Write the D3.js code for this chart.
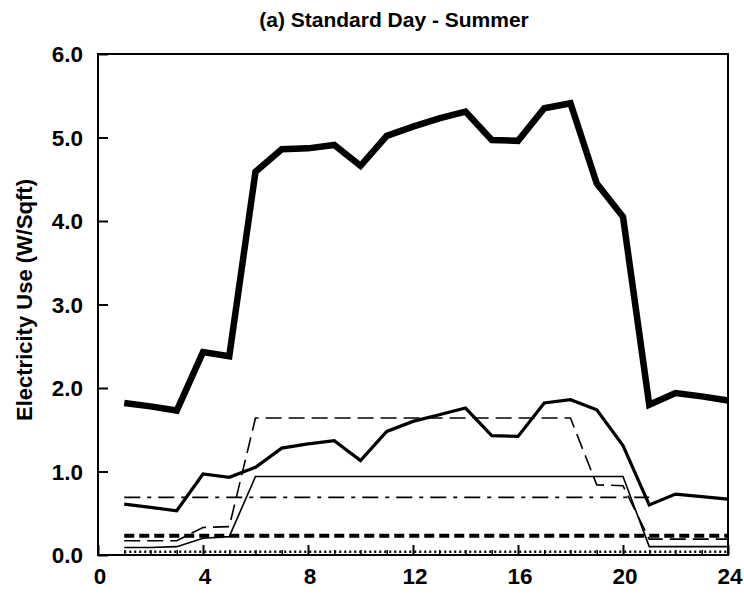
<!DOCTYPE html>
<html><head><meta charset="utf-8">
<script src="https://cdn.jsdelivr.net/npm/d3@7"></script>
<style>body{margin:0;background:#fff}</style>
</head><body>
<svg id="c" width="744" height="595"></svg>
<script>
const hours = [1,2,3,4,5,6,7,8,9,10,11,12,13,14,15,16,17,18,19,20,21,22,23,24];
const totalUse = [1.82,1.78,1.73,2.43,2.38,4.59,4.86,4.87,4.91,4.66,5.02,5.13,5.23,5.31,4.97,4.96,5.35,5.41,4.45,4.05,1.80,1.94,1.90,1.85];
const coolingUse = [0.61,0.57,0.53,0.97,0.93,1.05,1.28,1.33,1.37,1.13,1.48,1.60,1.68,1.76,1.43,1.42,1.82,1.86,1.74,1.31,0.60,0.73,0.70,0.67];
const lightingUse = [0.17,0.17,0.17,0.33,0.34,1.64,1.64,1.64,1.64,1.64,1.64,1.64,1.64,1.64,1.64,1.64,1.64,1.64,0.84,0.83,0.19,0.19,0.19,0.19];
const equipUse = [0.09,0.09,0.10,0.20,0.22,0.94,0.94,0.94,0.94,0.94,0.94,0.94,0.94,0.94,0.94,0.94,0.94,0.94,0.94,0.94,0.10,0.10,0.10,0.10];
const fanUse = [0.69,0.69,0.69,0.69,0.69,0.69,0.69,0.69,0.69,0.69,0.69,0.69,0.69,0.69,0.69,0.69,0.69,0.69,0.69,0.69,0.69,null,null,null];
const auxUse = [0.23,0.23,0.23,0.23,0.23,0.23,0.23,0.23,0.23,0.23,0.23,0.23,0.23,0.23,0.23,0.23,0.23,0.23,0.23,0.23,0.23,0.23,0.23,0.23];
const miscUse = [0.04,0.04,0.04,0.04,0.04,0.04,0.04,0.04,0.04,0.04,0.04,0.04,0.04,0.04,0.04,0.04,0.04,0.04,0.04,0.04,0.04,0.04,0.04,0.04];
const xTicks = [0,4,8,12,16,20,24];
const yTicks = [0,1,2,3,4,5,6];
const titleText = "(a) Standard Day - Summer";
const yTitle = "Electricity Use (W/Sqft)";

const svg = d3.select("#c");
const font = "'Liberation Sans', Arial, sans-serif";
const x = d3.scaleLinear().domain([0,24]).range([98,728]);
const y = d3.scaleLinear().domain([0,6]).range([555,54]);

// frame
svg.append("rect").attr("x",x(0)).attr("y",y(6)).attr("width",x(24)-x(0)).attr("height",y(0)-y(6))
  .attr("fill","none").attr("stroke","#000").attr("stroke-width",2);

// y axis (ticks inward)
const ya = svg.append("g").attr("transform",`translate(${x(0)},0)`)
  .call(d3.axisRight(y).tickValues(yTicks).tickSize(10).tickFormat(""));
ya.select(".domain").remove();
ya.selectAll("line").attr("stroke-width",2);
svg.append("g").selectAll("text").data(yTicks).join("text")
  .attr("x",83).attr("y",d=>y(d)).attr("dy","0.36em").attr("text-anchor","end")
  .attr("font-family",font).attr("font-weight","bold").attr("font-size",22.5)
  .text(d=>d3.format(".1f")(d));

// x axis ticks inward
const xa = svg.append("g").attr("transform",`translate(0,${y(0)})`)
  .call(d3.axisTop(x).tickValues(xTicks).tickSize(10).tickFormat(""));
xa.select(".domain").remove();
xa.selectAll("line").attr("stroke-width",2);
const xm = svg.append("g").attr("transform",`translate(0,${y(0)})`)
  .call(d3.axisTop(x).tickValues(hours.filter(h=>h%4!==0)).tickSize(5).tickFormat(""));
xm.select(".domain").remove();
xm.selectAll("line").attr("stroke-width",1.5);
svg.append("g").selectAll("text").data(xTicks).join("text")
  .attr("x",d=>x(d)+2).attr("y",584).attr("text-anchor","middle")
  .attr("font-family",font).attr("font-weight","bold").attr("font-size",22.5)
  .text(d=>d);

// titles
svg.append("text").attr("x",394).attr("y",27).attr("text-anchor","middle")
  .attr("font-family",font).attr("font-weight","bold").attr("font-size",21)
  .text(titleText);
svg.append("text").attr("transform","translate(32,300) rotate(-90)").attr("text-anchor","middle")
  .attr("font-family",font).attr("font-weight","bold").attr("font-size",22)
  .text(yTitle);

const series = [
  {v: miscUse, w: 2.5, dash: "2,3"},
  {v: auxUse, w: 4, dash: "10,5"},
  {v: fanUse, w: 1.6, dash: "16,7,4,7"},
  {v: equipUse, w: 1.6, dash: null},
  {v: lightingUse, w: 1.6, dash: "16,7"},
  {v: coolingUse, w: 3.2, dash: null},
  {v: totalUse, w: 6.5, dash: null}
];
const line = d3.line().defined(d=>d[1]!==null).x(d=>x(d[0])).y(d=>y(d[1]));
svg.append("g").selectAll("path").data(series).join("path")
  .attr("d",s=>line(hours.map((h,i)=>[h,s.v[i]])))
  .attr("fill","none").attr("stroke","#000")
  .attr("stroke-width",s=>s.w)
  .attr("stroke-dasharray",s=>s.dash)
  .attr("stroke-linejoin","miter").attr("stroke-linecap","butt");
</script>
</body></html>
